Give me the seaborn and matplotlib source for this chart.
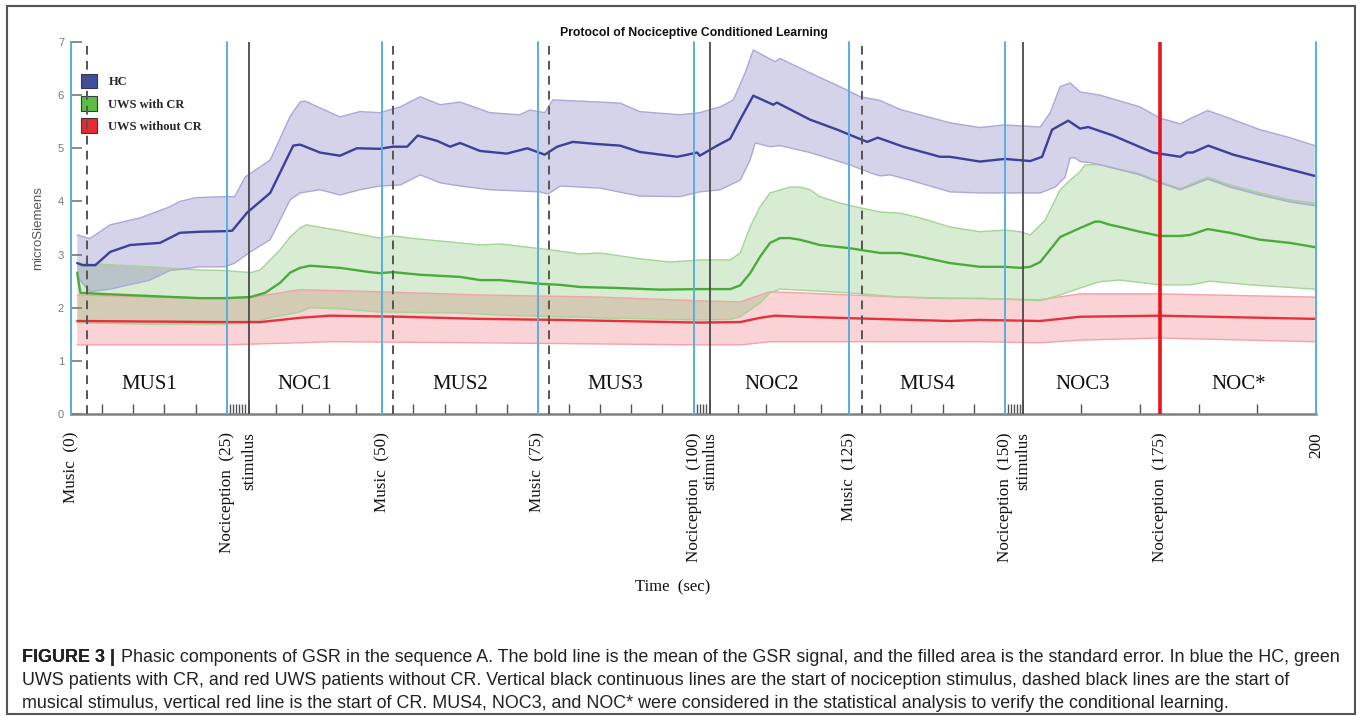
import numpy as np
import matplotlib
matplotlib.use("Agg")
import matplotlib.pyplot as plt
import seaborn as sns
from matplotlib.patches import Patch, Rectangle

# ---------------------------------------------------------------- data
# HC group (healthy controls)
hc_t = [1.0, 1.9, 3.9, 6.3, 9.5, 14.3, 17.5, 20.7, 24.7, 25.9, 28.3, 32.0, 35.7, 36.8,
        40.0, 43.2, 45.9, 49.6, 51.7, 54.0, 55.7, 58.8, 60.9, 62.5, 65.7, 70.0, 73.3,
        76.1, 78.1, 80.6, 84.5, 88.2, 91.4, 97.4, 100.6, 101.0, 103.8, 105.9, 107.5,
        109.6, 112.8, 113.4, 118.7, 123.1, 127.9, 129.6, 133.7, 139.6, 141.2, 146.0,
        150.0, 154.1, 156.0, 157.6, 160.2, 162.1, 163.4, 167.4, 173.8, 178.2, 179.3,
        180.2, 182.7, 186.7, 194.2, 199.8]
hc_mean = [2.84, 2.80, 2.80, 3.05, 3.18, 3.22, 3.41, 3.43, 3.44, 3.45, 3.79, 4.16, 5.05, 5.07,
           4.92, 4.86, 5.00, 4.99, 5.03, 5.03, 5.24, 5.14, 5.03, 5.10, 4.95, 4.90, 5.00,
           4.88, 5.03, 5.12, 5.08, 5.05, 4.93, 4.84, 4.92, 4.86, 5.05, 5.18, 5.54,
           5.99, 5.82, 5.86, 5.54, 5.35, 5.12, 5.20, 5.03, 4.84, 4.84, 4.75,
           4.80, 4.76, 4.84, 5.35, 5.52, 5.37, 5.40, 5.24, 4.92, 4.84, 4.92,
           4.92, 5.05, 4.88, 4.65, 4.48]

hc_up_t = [1.0, 3.0, 6.3, 11.1, 15.9, 17.5, 20.0, 24.7, 26.3, 28.0, 32.0, 35.2, 36.8, 37.6,
           40.0, 43.2, 46.4, 49.6, 52.9, 56.1, 59.3, 62.5, 67.3, 72.1, 73.7, 76.1, 77.4,
           85.0, 88.2, 91.4, 97.8, 101.0, 104.3, 106.4, 108.3, 109.6, 113.1, 113.9, 118.7,
           123.5, 126.8, 130.0, 133.2, 141.2, 146.0, 150.0, 155.7, 157.3, 158.9, 160.5,
           162.1, 165.3, 171.7, 174.9, 178.2, 179.8, 182.6, 186.2, 191.0, 195.8, 199.8]
hc_upper = [3.37, 3.30, 3.56, 3.69, 3.90, 4.00, 4.07, 4.09, 4.09, 4.46, 4.78, 5.60, 5.87, 5.89,
            5.76, 5.59, 5.69, 5.67, 5.78, 5.97, 5.82, 5.87, 5.67, 5.63, 5.72, 5.67, 5.91,
            5.87, 5.85, 5.69, 5.63, 5.67, 5.78, 5.91, 6.42, 6.85, 6.63, 6.69, 6.42,
            6.16, 5.97, 5.90, 5.73, 5.48, 5.39, 5.44, 5.40, 5.67, 6.16, 6.23,
            6.06, 6.00, 5.78, 5.57, 5.46, 5.56, 5.71, 5.56, 5.35, 5.20, 5.05]

hc_lo_t = [1.0, 3.0, 6.3, 12.7, 15.9, 20.7, 24.7, 26.3, 28.8, 32.0, 35.2, 36.8, 40.0, 43.2,
           46.4, 49.6, 52.9, 56.1, 59.3, 62.5, 67.3, 75.3, 76.6, 78.6, 85.0, 91.4, 97.8,
           101.0, 104.3, 107.5, 109.1, 109.9, 112.3, 113.9, 118.7, 125.1, 128.4, 130.0,
           131.6, 134.8, 141.2, 146.0, 155.7, 158.1, 159.7, 160.5, 161.3, 162.1, 163.7,
           165.3, 171.7, 174.9, 178.2, 179.8, 182.6, 186.2, 191.0, 195.8, 199.8]
hc_lower = [2.58, 2.30, 2.35, 2.52, 2.70, 2.77, 2.77, 2.84, 3.05, 3.28, 4.03, 4.16, 4.22, 4.12,
            4.22, 4.29, 4.31, 4.50, 4.35, 4.29, 4.22, 4.18, 4.14, 4.29, 4.25, 4.10, 4.09,
            4.18, 4.22, 4.40, 4.78, 5.10, 5.03, 5.05, 4.92, 4.69, 4.54, 4.48,
            4.50, 4.40, 4.18, 4.16, 4.16, 4.27, 4.46, 4.82, 4.82, 4.75, 4.73,
            4.69, 4.50, 4.35, 4.22, 4.29, 4.42, 4.27, 4.12, 3.99, 3.92]

# UWS patients with conditioned response
cr_t = [1.0, 1.5, 4.7, 12.7, 20.7, 24.7, 28.8, 31.2, 33.6, 35.2, 36.8, 38.4, 43.2, 48.0,
        49.6, 51.7, 56.1, 62.5, 65.7, 68.9, 75.3, 78.6, 81.8, 88.2, 94.6, 101.0, 105.9,
        107.5, 109.1, 110.7, 112.3, 113.9, 115.5, 117.1, 120.3, 125.1, 130.0, 133.2,
        136.4, 141.2, 146.0, 150.0, 152.5, 154.1, 155.7, 158.9, 162.1, 164.5, 165.3,
        166.9, 168.5, 171.7, 174.9, 178.2, 179.8, 182.6, 186.2, 191.0, 195.8, 199.8]
cr_mean = [2.66, 2.28, 2.26, 2.22, 2.18, 2.18, 2.20, 2.28, 2.47, 2.66, 2.75, 2.79, 2.75, 2.67,
           2.65, 2.67, 2.62, 2.58, 2.52, 2.52, 2.45, 2.43, 2.39, 2.37, 2.34, 2.35, 2.35,
           2.42, 2.65, 2.96, 3.22, 3.31, 3.31, 3.28, 3.18, 3.12, 3.03, 3.03,
           2.96, 2.84, 2.77, 2.77, 2.75, 2.77, 2.86, 3.33, 3.50, 3.62, 3.62,
           3.56, 3.52, 3.43, 3.35, 3.35, 3.37, 3.48, 3.41, 3.28, 3.22, 3.14]

cr_up_t = [1.0, 4.7, 12.7, 20.7, 24.7, 28.8, 30.4, 33.6, 35.2, 36.8, 37.8, 43.2, 49.6, 51.7,
           56.1, 62.5, 65.7, 68.9, 77.0, 81.8, 85.0, 91.4, 96.2, 101.0, 105.9, 107.5, 109.1,
           110.7, 112.3, 115.5, 117.1, 118.7, 120.3, 123.5, 126.8, 130.0, 133.2, 136.4,
           141.2, 146.0, 150.0, 152.5, 154.1, 156.5, 158.9, 160.5, 162.1, 162.9, 165.3,
           171.7, 174.9, 178.2, 179.8, 182.6, 186.2, 191.0, 195.8, 199.8]
cr_upper = [2.84, 2.82, 2.77, 2.71, 2.70, 2.66, 2.71, 3.09, 3.33, 3.50, 3.56, 3.45, 3.31, 3.35,
            3.29, 3.22, 3.18, 3.20, 3.09, 3.01, 3.03, 2.92, 2.86, 2.90, 2.90, 3.03, 3.52,
            3.90, 4.16, 4.27, 4.27, 4.22, 4.09, 3.97, 3.88, 3.80, 3.78, 3.69,
            3.52, 3.43, 3.46, 3.43, 3.37, 3.65, 4.22, 4.40, 4.56, 4.69, 4.69,
            4.52, 4.37, 4.24, 4.32, 4.46, 4.31, 4.16, 4.03, 3.97]

cr_lo_t = [1.0, 4.7, 12.7, 24.7, 28.8, 32.0, 36.8, 38.4, 43.2, 49.6, 62.5, 68.9, 85.0, 101.0,
           105.9, 107.5, 110.7, 112.3, 113.9, 117.1, 125.1, 133.2, 141.2, 146.0, 155.7,
           158.9, 162.1, 165.3, 168.5, 174.9, 179.8, 183.0, 189.4, 199.8]
cr_lower = [1.72, 1.71, 1.69, 1.69, 1.71, 1.81, 1.92, 2.00, 1.98, 1.92, 1.90, 1.86, 1.81, 1.77,
            1.78, 1.83, 2.09, 2.28, 2.35, 2.33, 2.28, 2.20, 2.17, 2.18, 2.13,
            2.24, 2.37, 2.49, 2.52, 2.43, 2.43, 2.50, 2.43, 2.35]

# UWS patients without conditioned response
nocr_t = [1.0, 24.7, 30.4, 36.8, 41.6, 52.9, 65.7, 78.6, 101.0, 107.5, 110.7, 113.1, 117.1,
          141.2, 146.0, 155.7, 162.1, 174.9, 199.8]
nocr_mean = [1.75, 1.73, 1.73, 1.81, 1.85, 1.83, 1.79, 1.77, 1.72, 1.73, 1.81, 1.85, 1.83,
             1.75, 1.77, 1.75, 1.83, 1.85, 1.79]

nocr_up_t = [1.0, 12.7, 24.7, 30.4, 36.8, 49.6, 65.7, 85.0, 101.0, 107.5, 110.7, 112.3, 117.1,
             133.2, 146.0, 155.7, 162.1, 174.9, 199.8]
nocr_upper = [2.24, 2.20, 2.18, 2.22, 2.34, 2.30, 2.24, 2.20, 2.13, 2.11, 2.24, 2.30, 2.28,
              2.20, 2.17, 2.15, 2.26, 2.26, 2.20]

nocr_lo_t = [1.0, 24.7, 30.4, 36.8, 41.6, 65.7, 101.0, 107.5, 112.3, 141.2, 146.0, 155.7,
             162.1, 174.9, 199.8]
nocr_lower = [1.30, 1.30, 1.32, 1.34, 1.36, 1.34, 1.30, 1.30, 1.36, 1.36, 1.36, 1.34,
              1.39, 1.43, 1.36]

# protocol events (seconds)
block_edges = [0, 25, 50, 75, 100, 125, 150, 200]
music_onsets = [2.6, 51.7, 76.8, 127.0]
stimulus_onsets = [28.6, 102.7, 152.9]
cr_onset = 175
block_names = ["MUS1", "NOC1", "MUS2", "MUS3", "NOC2", "MUS4", "NOC3", "NOC*"]
block_mids = [12.5, 37.5, 62.5, 87.5, 112.5, 137.5, 162.5, 187.5]

tick_pos = [0, 25, 28.6, 50, 75, 100, 102.7, 125, 150, 152.9, 175, 200]
tick_labels = ["Music  (0)", "Nociception  (25)", "stimulus", "Music  (50)", "Music  (75)",
               "Nociception  (100)", "stimulus", "Music  (125)", "Nociception  (150)",
               "stimulus", "Nociception  (175)", "200"]

group_names = ["HC", "UWS with CR", "UWS without CR"]

caption_head = "FIGURE 3 |"
caption_lines = [
    "Phasic components of GSR in the sequence A. The bold line is the mean of the GSR signal, "
    "and the filled area is the standard error. In blue the HC, green",
    "UWS patients with CR, and red UWS patients without CR. Vertical black continuous lines are "
    "the start of nociception stimulus, dashed black lines are the start of",
    "musical stimulus, vertical red line is the start of CR. MUS4, NOC3, and NOC* were "
    "considered in the statistical analysis to verify the conditional learning.",
]

# ---------------------------------------------------------------- style
sns.set_theme(style="white")
plt.rcParams['font.family'] = ['Liberation Sans', 'DejaVu Sans']

W, H = 1362, 716
fig = plt.figure(figsize=(W / 100, H / 100), dpi=100)
ax = fig.add_axes([71 / W, 1 - 414 / H, (1316 - 71) / W, (414 - 42) / H])

groups = [
    dict(t=nocr_t, m=nocr_mean, ut=nocr_up_t, u=nocr_upper, lt=nocr_lo_t, l=nocr_lower,
         line="#e6313a", fill=(235 / 255, 80 / 255, 90 / 255), edge="#f3a3a8"),
    dict(t=cr_t, m=cr_mean, ut=cr_up_t, u=cr_upper, lt=cr_lo_t, l=cr_lower,
         line="#4aab3a", fill=(100 / 255, 180 / 255, 80 / 255), edge="#a6d497"),
    dict(t=hc_t, m=hc_mean, ut=hc_up_t, u=hc_upper, lt=hc_lo_t, l=hc_lower,
         line="#3c3f9b", fill=(90 / 255, 80 / 255, 170 / 255), edge="#aca8d8"),
]

# shaded standard-error bands with their outlines
for g in groups:
    xs = np.r_[g["ut"], g["lt"][::-1]]
    ys = np.r_[g["u"], g["l"][::-1]]
    ax.fill(xs, ys, color=g["fill"], alpha=0.25, lw=0, zorder=1)
    sns.lineplot(x=g["ut"], y=g["u"], ax=ax, color=g["edge"], lw=1.0, zorder=2)
    sns.lineplot(x=g["lt"], y=g["l"], ax=ax, color=g["edge"], lw=1.0, zorder=2)

# group means
for g in groups:
    sns.lineplot(x=g["t"], y=g["m"], ax=ax, color=g["line"], lw=1.7, zorder=3)

# protocol markers
for x in block_edges:
    ax.axvline(x, color="#5aaee0", lw=1.4, zorder=4, clip_on=False)
for x in music_onsets:
    ax.axvline(x, color="#555555", lw=1.4, ls=(0, (4.5, 3.2)), zorder=6)
for x in stimulus_onsets:
    ax.axvline(x, color="#4a4a4a", lw=1.3, zorder=6)
ax.axvline(cr_onset, color="#e8151b", lw=2.6, zorder=6)

for name, mid in zip(block_names, block_mids):
    ax.text(mid, 0.55, name, ha="center", va="center", fontsize=15,
            family="Liberation Serif", color="#111111")

# axes
ax.set_xlim(0, 200)
ax.set_ylim(0, 7)
ax.set_yticks(range(8))
ax.tick_params(axis="y", direction="in", length=8, width=1.2, colors="#777777",
               labelsize=8, pad=5, left=True)
ax.set_xticks(tick_pos, labels=tick_labels, rotation=90, fontsize=12.3,
              family="Liberation Serif", va="top", ha="center")
ax.tick_params(axis="x", which="major", direction="in", length=10, width=1.4,
               color="#4d8fcc", labelcolor="#111111", pad=13, bottom=True)

minor = []
for a, b in zip(block_edges[:-1], block_edges[1:]):
    if a in (25, 100, 150):
        s = stimulus_onsets[[25, 100, 150].index(a)]
        minor += list(np.arange(a + 0.5, s - 0.3, 0.5))
        minor += list(np.linspace(s, b, 6)[1:-1])
    else:
        minor += list(range(a + 5, b, 5))
ax.set_xticks(minor, minor=True)
ax.tick_params(axis="x", which="minor", direction="in", length=7, width=1.0,
               color="#555555", bottom=True)

for side in ("top", "right"):
    ax.spines[side].set_visible(False)
ax.spines["left"].set_color("#5aaee0")
ax.spines["left"].set_linewidth(1.4)
ax.spines["bottom"].set_color("#808080")
ax.spines["bottom"].set_linewidth(1.8)

ax.set_ylabel("microSiemens", fontsize=9.5, color="#555555")
ax.yaxis.set_label_coords((44 - 71) / 1245, 0.5)
ax.set_xlabel("")
ax.set_title("Protocol of Nociceptive Conditioned Learning", fontsize=8.8,
             fontweight="bold", pad=4, color="#111111")

fig.text(673 / W, 1 - 587 / H, "Time  (sec)", ha="center", va="center", fontsize=12,
         family="Liberation Serif", color="#111111")

# legend
handles = [Patch(facecolor=c, edgecolor="#3a3a3a", lw=0.8)
           for c in ("#3e4da8", "#5bbd48", "#e72a2e")]
leg = ax.legend(handles, group_names, loc="upper left",
                bbox_to_anchor=((81 - 71) / 1245, (414 - 74) / 372), frameon=False,
                prop=dict(family="Liberation Serif", weight="bold", size=9),
                handlelength=1.3, handleheight=1.4, labelspacing=0.62,
                handletextpad=0.9, borderaxespad=0, borderpad=0)
leg.set_zorder(5)

# caption
cap_size = 12.9
y0 = 1 - 657 / H
dy = 23.5 / H
head = fig.text(22 / W, y0, caption_head, fontsize=cap_size, fontweight="bold",
                va="center", ha="left", color="#222222")
fig.add_artist(head)
plt.annotate(caption_lines[0], xy=(1, 0.5), xycoords=head, xytext=(4, 0),
             textcoords="offset points", va="center", ha="left", fontsize=cap_size,
             color="#222222", annotation_clip=False)
for i, line in enumerate(caption_lines[1:], start=1):
    fig.text(22 / W, y0 - i * dy, line, fontsize=cap_size, va="center",
             ha="left", color="#222222")

fig.add_artist(Rectangle((7 / W, 1 - 714 / H), (1355 - 7) / W, (714 - 6) / H,
                         fill=False, ec="#555555", lw=1.5, transform=fig.transFigure))

fig.savefig("out.png", dpi=100, facecolor="white")
